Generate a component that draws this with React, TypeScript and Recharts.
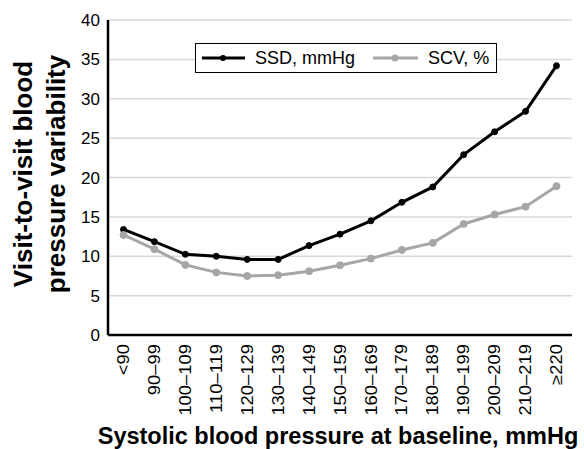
import { LineChart, Line, XAxis, YAxis, CartesianGrid } from "recharts";

const categories = [
  "<90", "90–99", "100–109", "110–119", "120–129", "130–139", "140–149",
  "150–159", "160–169", "170–179", "180–189", "190–199", "200–209", "210–219", "≥220",
];
const ssd = [13.4, 11.85, 10.25, 10.0, 9.6, 9.6, 11.35, 12.8, 14.5, 16.85, 18.8, 22.9, 25.8, 28.4, 34.2];
const scv = [12.7, 10.9, 8.9, 7.95, 7.5, 7.6, 8.1, 8.85, 9.7, 10.8, 11.7, 14.1, 15.3, 16.3, 18.9];
const yTicks = [0, 5, 10, 15, 20, 25, 30, 35, 40];

const data = categories.map((c, i) => ({ cat: c, ssd: ssd[i], scv: scv[i] }));

const FONT = "'Liberation Sans', Arial, sans-serif";
const GRAY = "#a6a6a6";

// rotated tick labels, stretched a little along their length like the original
const XTick = ({ x, y, payload }: any) => (
  <g transform={`translate(${x},${y + 1}) rotate(-90) scale(1.15,1)`}>
    <text x={0} y={0} dy="0.35em" textAnchor="end" fontSize={16} fontFamily={FONT} fill="#000">
      {payload.value}
    </text>
  </g>
);

const YTitle = () => (
  <g fontFamily={FONT} fontWeight="bold" fontSize={26} fill="#000">
    <text transform="translate(32,174) rotate(-90)" textAnchor="middle">Visit-to-visit blood</text>
    <text transform="translate(65,174) rotate(-90)" textAnchor="middle">pressure variability</text>
  </g>
);

const XTitle = () => (
  <text x={338} y={444} textAnchor="middle" fontFamily={FONT} fontWeight="bold" fontSize={23.5} fill="#000">
    Systolic blood pressure at baseline, mmHg
  </text>
);

const LegendBox = () => (
  <div
    style={{
      position: "absolute",
      left: 195,
      top: 43,
      boxSizing: "border-box",
      border: "1px solid #000",
      width: 302,
      height: 30,
      display: "flex",
      alignItems: "center",
      fontFamily: FONT,
      fontSize: 18,
      background: "#fff",
    }}
  >
    <svg width={59} height={28}>
      <line x1={6} y1={14} x2={49} y2={14} stroke="#000" strokeWidth={3} />
      <circle cx={27} cy={14} r={3} fill="#000" />
    </svg>
    <span style={{ width: 118 }}>SSD, mmHg</span>
    <svg width={55} height={28}>
      <line x1={0} y1={14} x2={45} y2={14} stroke={GRAY} strokeWidth={3} />
      <circle cx={22} cy={14} r={3.5} fill={GRAY} />
    </svg>
    <span>SCV, %</span>
  </div>
);

export default function App() {
  return (
    <div style={{ position: "absolute", left: 0, top: 0, width: 584, height: 449, background: "#fff" }}>
      <LineChart
        width={584}
        height={449}
        data={data}
        margin={{ top: 20, right: 12, bottom: 0, left: 0 }}
      >
        <CartesianGrid vertical={false} stroke="#d9d9d9" strokeWidth={1.5} />
        <XAxis
          dataKey="cat"
          interval={0}
          height={114}
          padding={{ left: 15.5, right: 15.5 }}
          tickLine={false}
          axisLine={{ stroke: "#000", strokeWidth: 2.5 }}
          tick={<XTick />}
          label={<XTitle />}
        />
        <YAxis
          width={108}
          domain={[0, 40]}
          ticks={yTicks}
          tickLine={false}
          axisLine={{ stroke: "#000", strokeWidth: 2.5 }}
          tick={{ fontSize: 17, fontFamily: FONT, fill: "#000" }}
          label={<YTitle />}
        />
        <Line
          dataKey="ssd"
          stroke="#000"
          strokeWidth={3}
          dot={{ r: 3, fill: "#000", stroke: "#000", strokeWidth: 1 }}
          isAnimationActive={false}
        />
        <Line
          dataKey="scv"
          stroke={GRAY}
          strokeWidth={3}
          dot={{ r: 3.5, fill: GRAY, stroke: GRAY, strokeWidth: 1 }}
          isAnimationActive={false}
        />
      </LineChart>
      <LegendBox />
    </div>
  );
}
